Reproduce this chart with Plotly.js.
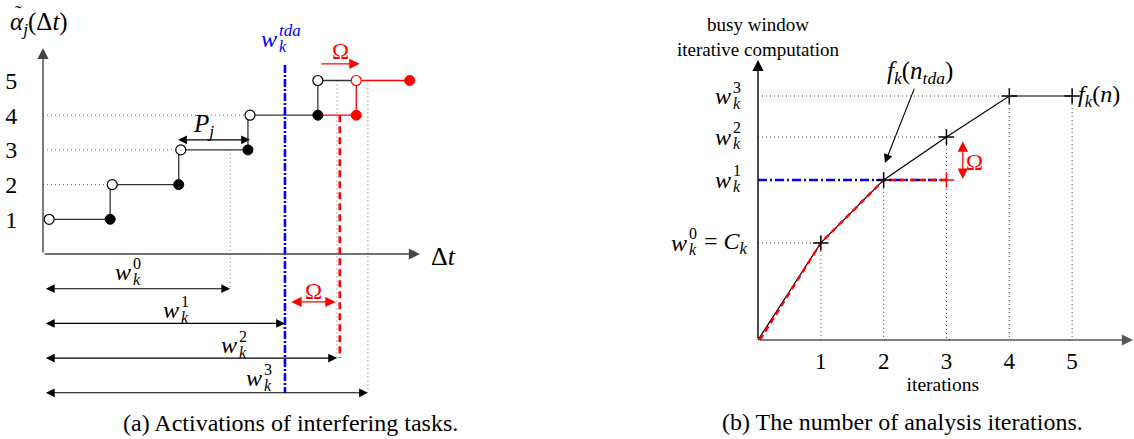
<!DOCTYPE html>
<html><head><meta charset="utf-8">
<script src="https://cdn.plot.ly/plotly-3.0.1.min.js"></script>
<style>body{margin:0;background:#fff}#chart{width:1134px;height:439px}</style>
</head><body><div id="chart"></div>
<script>
// ---------------- Panel (a): activations of interfering tasks ----------------
const levels = [1, 2, 3, 4, 5];
const levelStart = [0.9, 10.1, 20.1, 30.2, 40.1];   // open circles (start of each level)
const levelEnd = [9.8, 19.8, 29.9, 40.1];           // filled circles (end of levels 1-4)
const shiftedLevels = [4, 5];                       // red shifted activations
const shiftedStart = [40.1, 45.7];
const shiftedEnd = [45.7, 53.5];
const wIter = [27.3, 35.3, 42.9, 47.4];             // w_k^0 .. w_k^3
const wRow = [-1, -2, -3, -4];                      // rows of the w arrows
const wTda = 35.3;
const wShift = 43.3;
const omegaSpanA = [36.0, 42.7];
const periodSpan = [19.5, 30.2];

// ---------------- Panel (b): number of analysis iterations ----------------
const iterations = [0, 1, 2, 3, 4, 5];
const busyWindow = [0, 3.98, 6.56, 8.32, 10.0, 10.0];
const tdaIter = [0.03, 1, 2, 3];
const tdaWindow = [0, 3.98, 6.56, 6.56];
const xTicks = [1, 2, 3, 4, 5];

const F = 'Liberation Serif';
const px = x => x / 1134;
const py = y => 1 - y / 439;
const DOT = '1px,3px';
const GRAY = '#666';

const traces = [];
function line(xs, ys, color, width, dash, ax) {
  traces.push({x: xs, y: ys, xaxis: ax === 2 ? 'x2' : 'x', yaxis: ax === 2 ? 'y2' : 'y',
    mode: 'lines', line: {color, width, dash: dash || 'solid'}, hoverinfo: 'skip'});
}
function marks(xs, ys, symbol, size, fill, lineColor, lw, ax) {
  traces.push({x: xs, y: ys, xaxis: ax === 2 ? 'x2' : 'x', yaxis: ax === 2 ? 'y2' : 'y',
    mode: 'markers', marker: {symbol, size, color: fill, line: {color: lineColor, width: lw}},
    hoverinfo: 'skip', cliponaxis: false});
}

// ---- panel (a) guides
{
  const gx = [], gy = [];
  [1, 2, 3].forEach(i => { gx.push(0, levelStart[i], null); gy.push(levels[i], levels[i], null); });
  line(gx, gy, GRAY, 1, DOT, 1);
  line([wIter[0], wIter[0], null, wIter[2], wIter[2], null, wIter[3], wIter[3]],
       [levels[2], wRow[0], null, levels[4], wRow[2], null, levels[4], wRow[3]], GRAY, 1, DOT, 1);
}
// ---- panel (a) step function
{
  const sx = [levelStart[0]], sy = [levels[0]];
  for (let i = 0; i < levelEnd.length; i++) {
    sx.push(levelEnd[i], levelEnd[i]); sy.push(levels[i], levels[i + 1]);
  }
  sx.push(shiftedEnd[0]); sy.push(levels[4]);
  line(sx, sy, '#333', 1.3, 'solid', 1);
  line([shiftedStart[0], shiftedEnd[0], shiftedEnd[0], shiftedEnd[1]],
       [shiftedLevels[0], shiftedLevels[0], shiftedLevels[1], shiftedLevels[1]], '#ff0000', 1.3, 'solid', 1);
}
line([wTda, wTda], [5.45, wRow[3]], '#0000ff', 2.6, '8px,2px,2px,2px', 1);
line([wShift, wShift], [levels[3], wRow[2]], '#ff0000', 2.6, '7px,4px', 1);
marks(levelEnd, levels.slice(0, 4), 'circle', 10, '#000', '#000', 1, 1);
marks(levelStart, levels, 'circle', 10, '#fff', '#000', 1.2, 1);
marks([shiftedEnd[0], shiftedEnd[1]], [shiftedLevels[0], shiftedLevels[1]], 'circle', 10, '#ff0000', '#ff0000', 1, 1);
marks([shiftedStart[1]], [shiftedLevels[1]], 'circle', 10, '#fff', '#ff0000', 1.2, 1);

// ---- panel (b) guides
{
  const hx = [], hy = [];
  [1, 3, 4].forEach(i => { hx.push(0, iterations[i], null); hy.push(busyWindow[i], busyWindow[i], null); });
  line(hx, hy, '#444', 1, DOT, 2);
  const vx = [], vy = [];
  [[1, busyWindow[1]], [2, busyWindow[2]], [3, busyWindow[3]], [4, busyWindow[4]], [5, busyWindow[5]]]
    .forEach(([x, y]) => { vx.push(x, x, null); vy.push(y, 0, null); });
  line(vx, vy, '#444', 1, DOT, 2);
}
line([0, tdaIter[3]], [tdaWindow[3], tdaWindow[3]], '#0000ff', 2.4, '9px,3px,2px,3px', 2);
line(iterations, busyWindow, '#000', 1.2, 'solid', 2);
line(tdaIter, tdaWindow, '#ff0000', 2.4, '6px,4px', 2);
marks(iterations.slice(1), busyWindow.slice(1), 'cross-thin', 11, '#000', '#000', 1.5, 2);
marks([tdaIter[3]], [tdaWindow[3]], 'cross-thin', 11, '#ff0000', '#ff0000', 1.5, 2);

// ---------------- annotations ----------------
const ann = [];
function arrow(xr, yr, x0, y0, x1, y1, color, width, both) {
  ann.push({xref: xr, yref: yr, axref: xr, ayref: yr, x: x1, y: y1, ax: x0, ay: y0, text: '',
    showarrow: true, arrowhead: 2, arrowsize: 1.6, arrowwidth: width, arrowcolor: color,
    startarrowhead: 2, startarrowsize: 1.6, arrowside: both ? 'end+start' : 'end', standoff: 0, startstandoff: 0});
}
function text(x, y, t, size, color, xanchor, xref, yref, extra) {
  ann.push(Object.assign({xref: xref || 'paper', yref: yref || 'paper', x, y, text: t, showarrow: false,
    xanchor: xanchor || 'center', yanchor: 'middle', font: {family: F, size, color: color || '#000'}}, extra || {}));
}
function scriptLabel(x, y, sup, sub, color, xref, yref, supSize) {
  const c = color || '#000';
  text(x, y, '<i>w</i>', 24, c, 'right', xref, yref);
  text(x, y, sup, supSize || 16, c, 'left', xref, yref, {xshift: -2, yshift: 9});
  text(x, y, '<i>' + sub + '</i>', 16, c, 'left', xref, yref, {xshift: -2, yshift: -7});
}

// axes arrows (a)
arrow('x', 'y', 0, 0, 0, 5.94, '#444', 1.4, false);
arrow('x', 'y', 0, 0, 55, 0, '#444', 1.4, false);
// w arrows (a)
wIter.forEach((w, i) => arrow('x', 'y', 0.2, wRow[i], w, wRow[i], '#000', 1.1, true));
arrow('x', 'y', periodSpan[0], 3.29, periodSpan[1], 3.29, '#000', 1.1, true);
arrow('x', 'y', omegaSpanA[0], -1.38, omegaSpanA[1], -1.38, '#ff0000', 1.3, true);
arrow('x', 'y', 40.4, 5.48, 46.2, 5.48, '#ff0000', 1.3, false);

// labels (a)
text(px(8), py(23), '<i>α<sub>j</sub></i>(Δ<i>t</i>)', 25, '#000', 'left');
text(px(18), py(1), '˜', 20, '#000', 'center', 'paper', 'paper', {yanchor: 'top', borderpad: 0});
text(px(429), py(256), 'Δ<i>t</i>', 26, '#000', 'left');
text(px(203), py(126), '<i>P<sub>j</sub></i>', 25, '#000', 'center');
text(px(340), py(51), 'Ω', 23, '#ff0000', 'center');
text(px(313), py(291), 'Ω', 23, '#ff0000', 'center');
scriptLabel(px(279), py(39), '<i>tda</i>', 'k', '#0000ff', 'paper', 'paper', 17);
scriptLabel(px(133), py(272), '0', 'k');
scriptLabel(px(181), py(310), '1', 'k');
scriptLabel(px(239), py(345), '2', 'k');
scriptLabel(px(264), py(378), '3', 'k');
text(px(290), py(423), '(a) Activations of interfering tasks.', 24, '#000', 'center');

// axes arrows (b)
arrow('x2', 'y2', 0, 0, 0, 11.48, '#000', 1.4, false);
arrow('x2', 'y2', 0, 0, 5.97, 0, '#555', 1.4, false);
arrow('x2', 'y2', 3.26, 8.2, 3.26, 6.6, '#ff0000', 1.3, true);
ann.push({xref: 'x2', yref: 'y2', x: 2.02, y: 7.25, ax: 30, ay: -76, text: '', showarrow: true,
  arrowhead: 2, arrowsize: 1.6, arrowwidth: 1.1, arrowcolor: '#000', standoff: 0});

// labels (b)
text(px(758), py(37), 'busy window<br>iterative computation', 19, '#000', 'center');
text(px(885), py(73), '<i>f<sub>k</sub></i>(<i>n<sub>tda</sub></i>)', 25, '#000', 'left');
text(px(1076), py(96), '<i>f<sub>k</sub></i>(<i>n</i>)', 24, '#000', 'left');
text(px(964), py(162), 'Ω', 23, '#ff0000', 'left');
scriptLabel(px(733), busyWindow[4], '3', 'k', '#000', 'paper', 'y2');
scriptLabel(px(733), busyWindow[3], '2', 'k', '#000', 'paper', 'y2');
scriptLabel(px(733), busyWindow[2], '1', 'k', '#000', 'paper', 'y2');
scriptLabel(px(689), busyWindow[1], '0', 'k', '#000', 'paper', 'y2');
text(px(702), busyWindow[1], '= <i>C<sub>k</sub></i>', 24, '#000', 'left', 'paper', 'y2');
text(px(902), py(422), '(b) The number of analysis iterations.', 24, '#000', 'center');

const layout = {
  width: 1134, height: 439, margin: {l: 0, r: 0, t: 0, b: 0},
  paper_bgcolor: '#fff', plot_bgcolor: 'rgba(0,0,0,0)', showlegend: false,
  font: {family: F, color: '#000'},
  xaxis: {domain: [px(36.145), px(433.7)], range: [-1, 57], visible: false, fixedrange: true},
  yaxis: {domain: [py(410.15), py(45.8)], range: [-4.5, 6], showgrid: false, zeroline: false, showline: false,
    ticks: '', tickvals: levels, ticktext: levels.map(String), tickfont: {family: F, size: 24},
    ticklabelstandoff: 18, fixedrange: true},
  xaxis2: {domain: [px(751.72), 1], range: [-0.1, 5.985], anchor: 'y2', showgrid: false, zeroline: false,
    showline: false, ticks: '', tickvals: xTicks, ticktext: xTicks.map(String), tickfont: {family: F, size: 23},
    ticklabelstandoff: 4, title: {text: 'iterations', font: {family: F, size: 19.5}, standoff: 2}, fixedrange: true},
  yaxis2: {domain: [py(341.22), py(54.52)], range: [-0.05, 11.7], anchor: 'x2', visible: false, fixedrange: true},
  annotations: ann
};
Plotly.newPlot('chart', traces, layout, {staticPlot: true, displayModeBar: false});
</script></body></html>
